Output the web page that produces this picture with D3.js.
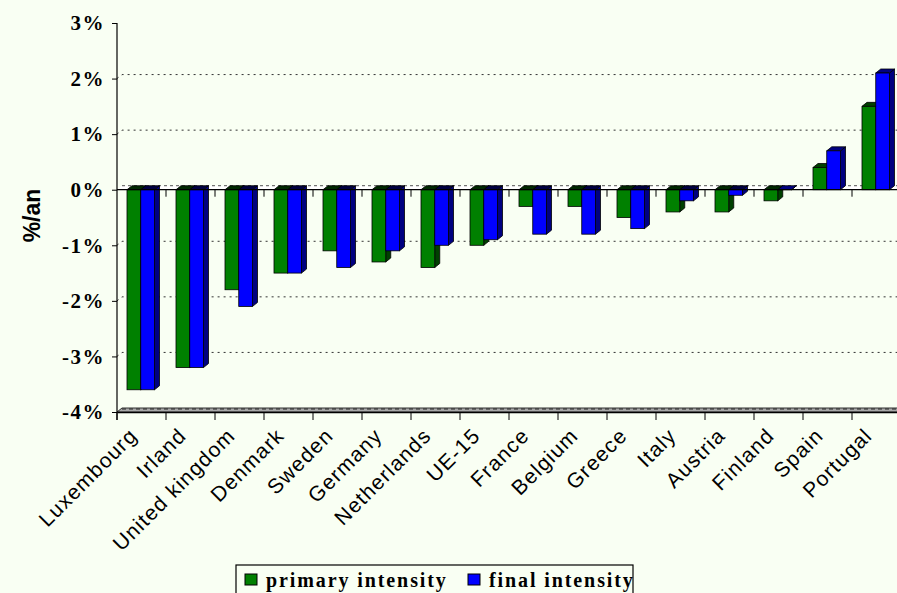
<html>
<head>
<script src="https://d3js.org/d3.v7.min.js"></script>
<style>
  body { margin: 0; background: #f9fff3; }
  svg { display: block; }
  .ylab { font-family: "Liberation Serif", "Times New Roman", serif; font-weight: bold; font-size: 21px; letter-spacing: 1.5px; }
  .xlab { font-family: "Liberation Sans", Arial, sans-serif; font-size: 21px; letter-spacing: 1.2px; }
  .legend text { font-family: "Liberation Serif", "Times New Roman", serif; font-weight: bold; font-size: 20px; letter-spacing: 1.9px; }
</style>
</head>
<body>
<div id="chart"></div>
<script>
var countries = ["Luxembourg", "Irland", "United kingdom", "Denmark", "Sweden", "Germany",
  "Netherlands", "UE-15", "France", "Belgium", "Greece", "Italy", "Austria", "Finland", "Spain", "Portugal"];
var primaryIntensity = [-3.6, -3.2, -1.8, -1.5, -1.1, -1.3, -1.4, -1.0, -0.3, -0.3, -0.5, -0.4, -0.4, -0.2, 0.4, 1.5];
var finalIntensity   = [-3.6, -3.2, -2.1, -1.5, -1.4, -1.1, -1.0, -0.9, -0.8, -0.8, -0.7, -0.2, -0.1, 0.0, 0.7, 2.1];
var seriesNames = ["primary intensity", "final intensity"];
var yTicks = [3, 2, 1, 0, -1, -2, -3, -4];

var width = 897, height = 593;
var plotLeft = 117, plotTop = 23, plotBottom = 412;
var dx = 5, dy = 4; // 3d depth

var faces = [
  {front: "#008000", side: "#004000", top: "#002800"},
  {front: "#0000ff", side: "#000080", top: "#000040"}
];

var svg = d3.select("#chart").append("svg")
  .attr("width", width).attr("height", height);

svg.append("rect").attr("width", width).attr("height", height).attr("fill", "#f9fff3");

var x = d3.scaleBand().domain(countries).range([plotLeft, plotLeft + countries.length * 49]);
var xs = d3.scaleBand().domain(seriesNames).range([10, 37.5]);
var y = d3.scaleLinear().domain([-4, 3]).range([plotBottom, plotTop]);
var y0 = y(0);
var xEnd = x.range()[1];

/* back wall gridlines */
var grid = svg.append("g");
yTicks.filter(t => t !== 0 && t !== -4 && t !== 3).forEach(function(t) {
  grid.append("path")
    .attr("d", `M${plotLeft},${y(t)}L${plotLeft + dx},${y(t) - dy}L${xEnd},${y(t) - dy}`)
    .attr("fill", "none").attr("stroke", "#333").attr("stroke-width", 1)
    .attr("stroke-dasharray", "2,4");
});

/* floor at -4% */
svg.append("path")
  .attr("d", `M${plotLeft},${plotBottom}L${plotLeft + dx},${plotBottom - dy}L${xEnd + dx},${plotBottom - dy}L${xEnd},${plotBottom}Z`)
  .attr("fill", "#a8a8a8").attr("stroke", "#333").attr("stroke-width", 1);
svg.append("path")
  .attr("d", `M${plotLeft + dx},${plotBottom - dy + 1}L${xEnd},${plotBottom - dy + 1}`)
  .attr("stroke", "#222").attr("stroke-dasharray", "4,3");

/* zero plane */
svg.append("path")
  .attr("d", `M${plotLeft},${y0}L${plotLeft + dx},${y0 - dy}L${xEnd + dx},${y0 - dy}L${xEnd},${y0}Z`)
  .attr("fill", "#ffffff").attr("stroke", "none");
svg.append("path")
  .attr("d", `M${plotLeft + dx},${y0 - dy}L${xEnd},${y0 - dy}`)
  .attr("stroke", "#555").attr("stroke-dasharray", "3,3");

/* bars */
var data = countries.map((c, i) => ({country: c, vals: [primaryIntensity[i], finalIntensity[i]]}));
var groups = svg.append("g").selectAll("g").data(data).join("g")
  .attr("transform", d => `translate(${x(d.country)},0)`);

groups.each(function(d) {
  var g = d3.select(this);
  d.vals.forEach(function(v, si) {
    var x0 = xs(seriesNames[si]), w = xs.bandwidth();
    var yv = y(v);
    var ytop = Math.min(yv, y0), ybot = Math.max(yv, y0);
    var col = faces[si];
    // side face
    g.append("path")
      .attr("d", `M${x0 + w},${ytop}L${x0 + w + dx},${ytop - dy}L${x0 + w + dx},${ybot - dy}L${x0 + w},${ybot}Z`)
      .attr("fill", col.side).attr("stroke", "#000").attr("stroke-width", 0.8);
    // top face
    g.append("path")
      .attr("d", `M${x0},${ytop}L${x0 + dx},${ytop - dy}L${x0 + w + dx},${ytop - dy}L${x0 + w},${ytop}Z`)
      .attr("fill", v >= 0 ? col.side : col.top).attr("stroke", "#000").attr("stroke-width", 0.8);
    // front face
    g.append("rect")
      .attr("x", x0).attr("y", ytop).attr("width", w).attr("height", ybot - ytop)
      .attr("fill", col.front).attr("stroke", "#000").attr("stroke-width", 0.8);
  });
});

/* zero axis line */
svg.append("line")
  .attr("x1", plotLeft).attr("x2", xEnd).attr("y1", y0).attr("y2", y0)
  .attr("stroke", "#000").attr("stroke-width", 1.2);

/* category ticks */
var bounds = countries.map(c => x(c)).concat([xEnd]);
svg.append("g").selectAll("line").data(bounds.slice(1)).join("line")
  .attr("x1", d => d).attr("x2", d => d).attr("y1", y0).attr("y2", y0 + 7)
  .attr("stroke", "#000");

/* bottom axis */
var xAxis = d3.axisBottom(x).tickSize(0).tickFormat("");
svg.append("g").attr("transform", `translate(0,${plotBottom})`).call(xAxis)
  .call(g => g.select(".domain").attr("stroke", "#000").attr("stroke-width", 1.5));
svg.append("g").selectAll("line").data(bounds).join("line")
  .attr("x1", d => d).attr("x2", d => d).attr("y1", plotBottom).attr("y2", plotBottom + 8)
  .attr("stroke", "#000");

svg.append("g").selectAll("text").data(countries).join("text")
  .attr("class", "xlab")
  .attr("text-anchor", "end")
  .attr("transform", d => `translate(${x(d) + x.bandwidth() / 2 - 3},${plotBottom + 25}) rotate(-45)`)
  .attr("fill", "#000")
  .text(d => d);

/* y axis */
var yAxis = d3.axisLeft(y).tickValues(yTicks).tickSize(5).tickFormat(d => d + "%");
svg.append("g").attr("transform", `translate(${plotLeft},0)`).call(yAxis)
  .call(g => g.select(".domain").attr("d", `M0,${plotTop}V${plotBottom + 8}`).attr("stroke", "#000").attr("stroke-width", 1.2))
  .call(g => g.selectAll(".tick line").attr("stroke", "#000"))
  .call(g => g.selectAll(".tick text").attr("class", "ylab").attr("x", -12).attr("fill", "#000"));
svg.selectAll(".tick text").attr("font-size", null).attr("font-family", null);

svg.append("text")
  .attr("transform", `translate(40,${(plotTop + plotBottom) / 2 - 2}) rotate(-90)`)
  .attr("text-anchor", "middle")
  .attr("font-family", "Liberation Sans, Arial, sans-serif")
  .attr("font-weight", "bold").attr("font-size", 23)
  .text("%/an");

/* legend */
var legend = svg.append("g").attr("class", "legend");
legend.append("rect").attr("x", 236).attr("y", 565).attr("width", 397).attr("height", 40)
  .attr("fill", "#f9fff3").attr("stroke", "#000").attr("stroke-width", 1.2);
var legX = [245, 468];
seriesNames.forEach(function(n, i) {
  legend.append("rect").attr("x", legX[i]).attr("y", 574).attr("width", 12).attr("height", 11)
    .attr("fill", faces[i].front).attr("stroke", "#000");
  legend.append("text").attr("x", legX[i] + 21).attr("y", 587).attr("fill", "#000").text(n);
});
</script>
</body>
</html>
